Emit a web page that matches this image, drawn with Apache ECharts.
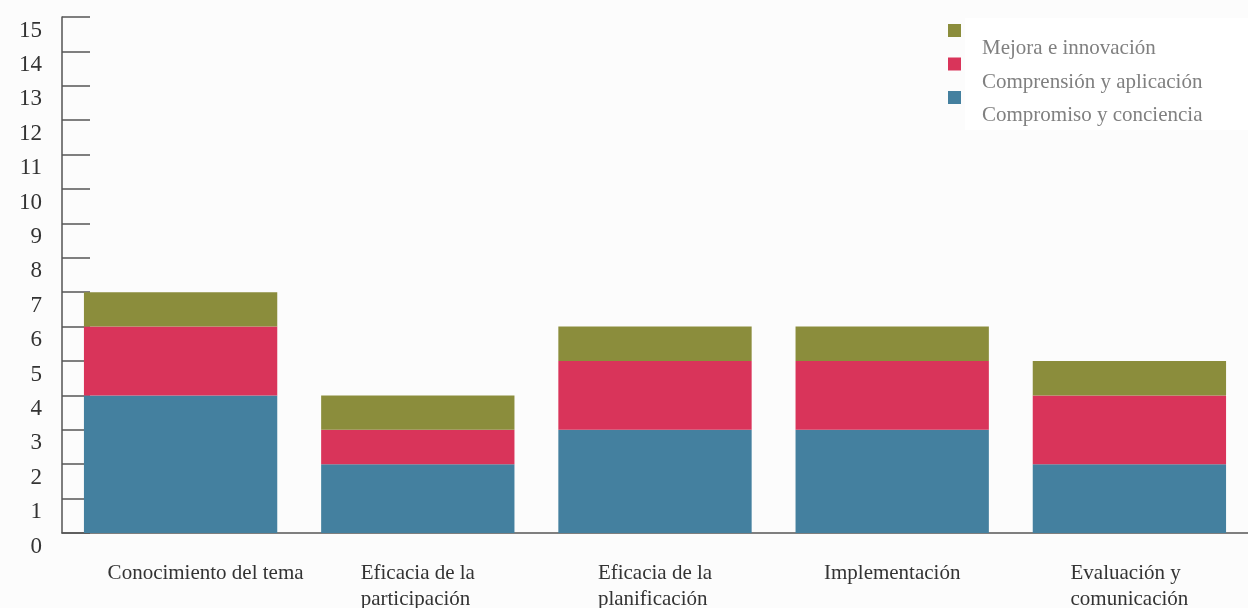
<!DOCTYPE html>
<html>
<head>
<meta charset="utf-8">
<script src="https://cdn.jsdelivr.net/npm/echarts@6/dist/echarts.min.js"></script>
<style>
html,body{margin:0;padding:0;background:#ffffff;}
#chart{width:1248px;height:608px;}
</style>
</head>
<body>
<div id="chart"></div>
<script>
const categories = [
  'Conocimiento del tema',
  'Eficacia de la\nparticipación',
  'Eficacia de la\nplanificación',
  'Implementación',
  'Evaluación y\ncomunicación'
];
const seriesNames = ['Compromiso y conciencia', 'Comprensión y aplicación', 'Mejora e innovación'];
const compromiso = [4, 2, 3, 3, 2];
const comprension = [2, 1, 2, 2, 2];
const mejora = [1, 1, 1, 1, 1];
const colors = ['#44809f', '#d9345a', '#8b8d3c'];

const chart = echarts.init(document.getElementById('chart'));
const serif = '"Liberation Serif", "DejaVu Serif", serif';

function mkSeries(name, data, color) {
  return {
    name: name, type: 'bar', stack: 'total', data: data,
    barWidth: '81.5%',
    itemStyle: { color: color },
    emphasis: { disabled: true }
  };
}

chart.setOption({
  backgroundColor: '#fcfcfc',
  animation: false,
  graphic: [{
    type: 'rect', silent: true, z: -10,
    shape: { x: 965, y: 18, width: 283, height: 112 },
    style: { fill: '#ffffff' }
  }],
  grid: { left: 62, right: 0, top: 17, bottom: 75, containLabel: false, outerBoundsMode: 'none' },
  legend: {
    orient: 'vertical',
    left: 948, top: 2,
    padding: 0,
    itemWidth: 13, itemHeight: 13,
    itemGap: -23.5,
    icon: 'rect',
    data: ['Mejora e innovación', 'Comprensión y aplicación', 'Compromiso y conciencia'],
    formatter: function (name) { return '{t|' + name + '}'; },
    textStyle: {
      rich: {
        t: { fontFamily: serif, fontSize: 21, color: '#808080', lineHeight: 20, padding: [36, 0, 0, 16] }
      }
    }
  },
  xAxis: {
    type: 'category',
    data: categories,
    axisLine: { lineStyle: { color: '#555', width: 1.5 } },
    axisTick: { inside: true, length: 13, lineStyle: { color: '#555', width: 1.5 } },
    axisLabel: {
      margin: 27.5,
      interval: 0,
      formatter: function (v, idx) {
        const tag = idx === 0 ? 'b' : 'a';
        return v.split('\n').map(l => '{' + tag + '|' + l + '}').join('\n');
      },
      rich: {
        a: { fontFamily: serif, fontSize: 21, color: '#333', lineHeight: 26, align: 'left' },
        b: { fontFamily: serif, fontSize: 21, color: '#333', lineHeight: 26, align: 'left', padding: [0, 0, 0, 50] }
      }
    }
  },
  yAxis: {
    type: 'value',
    min: 0, max: 15, interval: 1,
    splitLine: { show: false },
    axisLine: { show: true, lineStyle: { color: '#555', width: 1.5 } },
    axisTick: { show: true, inside: true, length: 28, lineStyle: { color: '#555', width: 1.5 } },
    axisLabel: {
      margin: 20,
      fontFamily: serif, fontSize: 23, color: '#333',
      verticalAlign: 'top', lineHeight: 27
    }
  },
  series: [
    mkSeries(seriesNames[0], compromiso, colors[0]),
    mkSeries(seriesNames[1], comprension, colors[1]),
    mkSeries(seriesNames[2], mejora, colors[2])
  ]
});
</script>
</body>
</html>
